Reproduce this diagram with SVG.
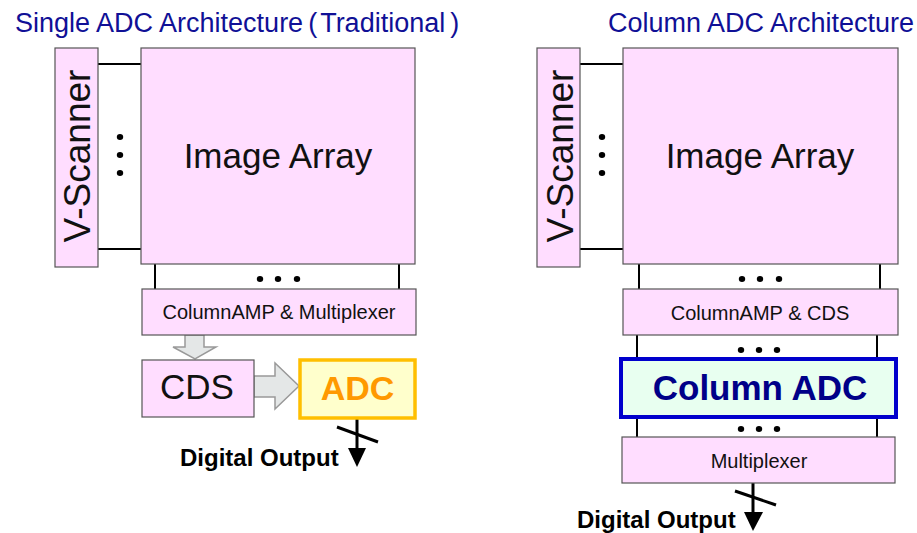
<svg xmlns="http://www.w3.org/2000/svg" width="917" height="533" viewBox="0 0 917 533">
<style>
.t{font-family:"Liberation Sans",Arial,sans-serif;}
.title{font-size:27px;fill:#101096;}
.box{fill:#FFDDFF;stroke:#555;stroke-width:1.2;}
.big{font-size:35px;fill:#111;text-anchor:middle;}
.mid{font-size:20px;fill:#111;text-anchor:middle;}
.ln{stroke:#000;stroke-width:2;fill:none;}
.out{stroke:#000;stroke-width:3;fill:none;}
.dig{font-size:24px;font-weight:bold;fill:#000;}
.gray{fill:#E4E7E7;stroke:#999;stroke-width:1.5;}
</style>
<rect width="917" height="533" fill="#fff"/>
<text class="t title" x="15" y="32">Single ADC Architecture<tspan dx="5">(</tspan><tspan dx="3">Traditional</tspan><tspan dx="5">)</tspan></text>
<text class="t title" x="608" y="32">Column ADC Architecture</text>

<g id="connectors">
  <line class="ln" x1="98" y1="64" x2="141" y2="64"/>
  <line class="ln" x1="98" y1="249" x2="141" y2="249"/>
  <line class="ln" x1="155" y1="264" x2="155" y2="289"/>
  <line class="ln" x1="399" y1="264" x2="399" y2="289"/>
  <line class="ln" x1="580" y1="64" x2="623" y2="64"/>
  <line class="ln" x1="580" y1="249" x2="623" y2="249"/>
  <line class="ln" x1="639" y1="264" x2="639" y2="289"/>
  <line class="ln" x1="880" y1="264" x2="880" y2="289"/>
  <line class="ln" x1="637" y1="335" x2="637" y2="359"/>
  <line class="ln" x1="877" y1="335" x2="877" y2="359"/>
  <line class="ln" x1="637" y1="417" x2="637" y2="437"/>
  <line class="ln" x1="877" y1="417" x2="877" y2="437"/>
  <g fill="#000">
    <ellipse cx="120" cy="137" rx="3.2" ry="3"/><ellipse cx="120" cy="155" rx="3.2" ry="3"/><ellipse cx="120" cy="173" rx="3.2" ry="3"/>
    <ellipse cx="602" cy="137" rx="3.2" ry="3"/><ellipse cx="602" cy="155" rx="3.2" ry="3"/><ellipse cx="602" cy="173" rx="3.2" ry="3"/>
    <ellipse cx="260" cy="279" rx="3.2" ry="3"/><ellipse cx="278" cy="279" rx="3.2" ry="3"/><ellipse cx="297" cy="279" rx="3.2" ry="3"/>
    <ellipse cx="742" cy="279" rx="3.2" ry="3"/><ellipse cx="760" cy="279" rx="3.2" ry="3"/><ellipse cx="779" cy="279" rx="3.2" ry="3"/>
    <ellipse cx="741" cy="350" rx="3.2" ry="3"/><ellipse cx="759" cy="350" rx="3.2" ry="3"/><ellipse cx="777" cy="350" rx="3.2" ry="3"/>
    <ellipse cx="741" cy="429" rx="3.2" ry="3"/><ellipse cx="759" cy="429" rx="3.2" ry="3"/><ellipse cx="777" cy="429" rx="3.2" ry="3"/>
  </g>
  <polygon class="gray" points="185,335 204,335 204,347 216,347 195,359 173,347 185,347"/>
  <polygon class="gray" points="254,376 275,376 275,363 299,386 275,409 275,397 254,397"/>
  <line class="out" x1="357" y1="418" x2="357" y2="450"/>
  <polygon points="348,448 366,448 357,467" fill="#000"/>
  <line class="out" x1="337" y1="427" x2="378" y2="442"/>
  <line class="out" x1="753" y1="483" x2="753" y2="514"/>
  <polygon points="744,512 763,512 753,531" fill="#000"/>
  <line class="out" x1="735" y1="491" x2="776" y2="505"/>
</g>

<g id="vscanner-left">
  <rect class="box" x="55" y="48" width="43" height="219"/>
  <text class="t" font-size="37" fill="#111" text-anchor="middle" transform="translate(90,156) rotate(-90)">V-Scanner</text>
</g>
<g id="image-array-left">
  <rect class="box" x="141" y="48" width="274" height="216"/>
  <text class="t big" x="278" y="168">Image Array</text>
</g>
<g id="colamp-mux-left">
  <rect class="box" x="142" y="289" width="274" height="46"/>
  <text class="t mid" x="279" y="319">ColumnAMP &amp; Multiplexer</text>
</g>
<g id="cds-left">
  <rect class="box" x="142" y="360" width="112" height="57"/>
  <text class="t big" x="197" y="399">CDS</text>
</g>
<g id="adc-left">
  <rect x="300" y="360" width="115" height="58" fill="#FFFFCC" stroke="#FFBF00" stroke-width="3.5"/>
  <text class="t" x="357.5" y="400" font-size="34" font-weight="bold" fill="#FF9900" text-anchor="middle">ADC</text>
</g>
<g id="digital-output-left">
  <text class="t dig" x="180" y="466">Digital Output</text>
</g>

<g id="vscanner-right">
  <rect class="box" x="537" y="48" width="43" height="219"/>
  <text class="t" font-size="37" fill="#111" text-anchor="middle" transform="translate(573,156) rotate(-90)">V-Scanner</text>
</g>
<g id="image-array-right">
  <rect class="box" x="623" y="48" width="275" height="216"/>
  <text class="t big" x="760" y="168">Image Array</text>
</g>
<g id="colamp-cds-right">
  <rect class="box" x="623" y="289" width="275" height="46"/>
  <text class="t mid" x="760" y="320">ColumnAMP &amp; CDS</text>
</g>
<g id="column-adc-right">
  <rect x="621" y="359" width="275" height="58" fill="#E8FFF0" stroke="#0000CC" stroke-width="4"/>
  <text class="t" x="760" y="400" font-size="35" font-weight="bold" fill="#000088" text-anchor="middle">Column ADC</text>
</g>
<g id="multiplexer-right">
  <rect class="box" x="622" y="437" width="273" height="46"/>
  <text class="t mid" x="759" y="468">Multiplexer</text>
</g>
<g id="digital-output-right">
  <text class="t dig" x="577" y="528">Digital Output</text>
</g>
</svg>
